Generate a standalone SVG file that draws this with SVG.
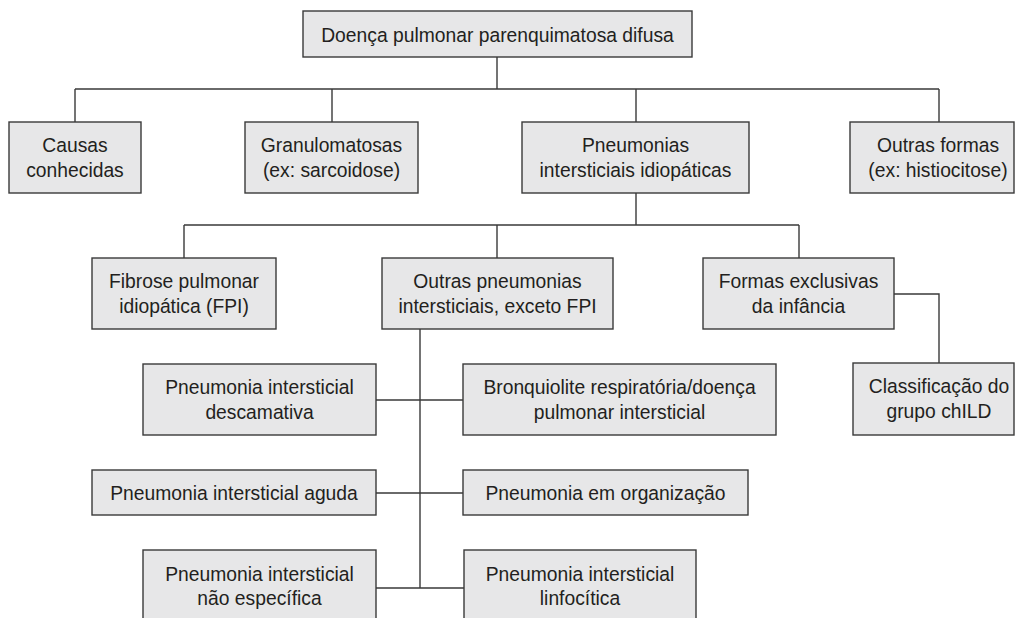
<svg xmlns="http://www.w3.org/2000/svg" width="1016" height="618" viewBox="0 0 1016 618">
<style>
  .box { fill: #e7e7e8; stroke: #3a3a3a; stroke-width: 1.4; }
  .lbl { font-family: "Liberation Sans", Arial, sans-serif; font-size: 19.3px; fill: #231f20; text-anchor: middle; }
  .conn { fill: none; stroke: #3a3a3a; stroke-width: 1.4; }
</style>
<rect width="1016" height="618" fill="#ffffff"/>
<g id="connectors">
  <path class="conn" d="M497,57 V89 M75,89 H939 M75,89 V122 M332,89 V122 M636,89 V122 M939,89 V122"/>
  <path class="conn" d="M636,193 V225 M184,225 H799 M184,225 V258 M497,225 V258 M799,225 V258"/>
  <path class="conn" d="M894,294 H939 V363"/>
  <path class="conn" d="M420,329 V588 M376,400 H463 M376,493 H463 M376,588 H464"/>
</g>
<g id="n-root">
  <rect class="box" x="303" y="11" width="389" height="46"/>
  <text class="lbl" x="497.5" y="42">Doença pulmonar parenquimatosa difusa</text>
</g>
<g id="n-causas">
  <rect class="box" x="9" y="122" width="132" height="71"/>
  <text class="lbl" x="75" y="152">Causas</text>
  <text class="lbl" x="75" y="177">conhecidas</text>
</g>
<g id="n-granulomatosas">
  <rect class="box" x="245" y="122" width="173" height="71"/>
  <text class="lbl" x="331.5" y="152">Granulomatosas</text>
  <text class="lbl" x="331.5" y="177">(ex: sarcoidose)</text>
</g>
<g id="n-pii">
  <rect class="box" x="522" y="122" width="227" height="71"/>
  <text class="lbl" x="635.5" y="152">Pneumonias</text>
  <text class="lbl" x="635.5" y="177">intersticiais idiopáticas</text>
</g>
<g id="n-outras-formas">
  <rect class="box" x="850" y="122" width="164" height="71"/>
  <text class="lbl" x="938" y="152">Outras formas</text>
  <text class="lbl" x="938" y="177">(ex: histiocitose)</text>
</g>
<g id="n-fpi">
  <rect class="box" x="92" y="258" width="184" height="71"/>
  <text class="lbl" x="184" y="288">Fibrose pulmonar</text>
  <text class="lbl" x="184" y="313">idiopática (FPI)</text>
</g>
<g id="n-outras-pneumonias">
  <rect class="box" x="382" y="258" width="231" height="71"/>
  <text class="lbl" x="497.5" y="288">Outras pneumonias</text>
  <text class="lbl" x="497.5" y="313">intersticiais, exceto FPI</text>
</g>
<g id="n-formas-exclusivas">
  <rect class="box" x="703" y="258" width="191" height="71"/>
  <text class="lbl" x="798.5" y="288">Formas exclusivas</text>
  <text class="lbl" x="798.5" y="313">da infância</text>
</g>
<g id="n-child">
  <rect class="box" x="853" y="363" width="161" height="72"/>
  <text class="lbl" x="939" y="393">Classificação do</text>
  <text class="lbl" x="939" y="418">grupo chILD</text>
</g>
<g id="n-descamativa">
  <rect class="box" x="143" y="364" width="233" height="71"/>
  <text class="lbl" x="259.5" y="394">Pneumonia intersticial</text>
  <text class="lbl" x="259.5" y="419">descamativa</text>
</g>
<g id="n-bronquiolite">
  <rect class="box" x="463" y="364" width="313" height="71"/>
  <text class="lbl" x="619.5" y="394">Bronquiolite respiratória/doença</text>
  <text class="lbl" x="619.5" y="419">pulmonar intersticial</text>
</g>
<g id="n-aguda">
  <rect class="box" x="92" y="470" width="284" height="45"/>
  <text class="lbl" x="234" y="500">Pneumonia intersticial aguda</text>
</g>
<g id="n-organizacao">
  <rect class="box" x="463" y="470" width="285" height="45"/>
  <text class="lbl" x="605.5" y="500">Pneumonia em organização</text>
</g>
<g id="n-nao-especifica">
  <rect class="box" x="143" y="550" width="233" height="90"/>
  <text class="lbl" x="259.5" y="581">Pneumonia intersticial</text>
  <text class="lbl" x="259.5" y="605">não específica</text>
</g>
<g id="n-linfocitica">
  <rect class="box" x="464" y="550" width="232" height="90"/>
  <text class="lbl" x="580" y="581">Pneumonia intersticial</text>
  <text class="lbl" x="580" y="605">linfocítica</text>
</g>
</svg>
